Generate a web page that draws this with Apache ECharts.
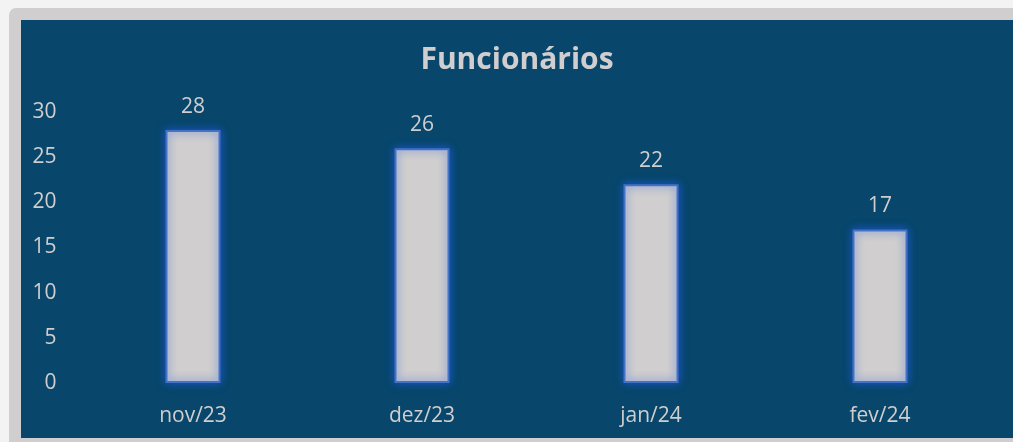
<!DOCTYPE html>
<html>
<head>
<meta charset="utf-8">
<script src="https://cdn.jsdelivr.net/npm/echarts@6/dist/echarts.min.js"></script>
<style>
    html, body { margin: 0; padding: 0; background: #f4f3f3; overflow: hidden; }
    #frame {
        position: absolute; left: 9px; top: 8px;
        width: 1020px; height: 446px;
        background: #d0cece; border-radius: 7px;
    }
    #chart {
        position: absolute; left: 21px; top: 20px;
        width: 992px; height: 418px;
    }
</style>
</head>
<body>
<div id="frame"></div>
<div id="chart"></div>
<script>
    let categories = ['nov/23', 'dez/23', 'jan/24', 'fev/24'];
    let funcionarios = [28, 26, 22, 17];
    let yTicks = [0, 5, 10, 15, 20, 25, 30];

    let textColor = '#d0cece';
    let font = '"Open Sans", sans-serif';

    let myChart = echarts.init(document.getElementById('chart'));
    let option = {
        backgroundColor: '#08476b',
        animation: false,
        title: {
            text: 'Funcionários',
            left: 'center',
            top: 20,
            textStyle: {
                color: textColor,
                fontSize: 30,
                fontWeight: 'bold',
                fontFamily: font
            }
        },
        grid: {
            left: 57.5,
            right: 18.5,
            top: 92,
            bottom: 55,
            containLabel: false
        },
        xAxis: {
            type: 'category',
            data: categories,
            axisLine: { show: false },
            axisTick: { show: false },
            axisLabel: {
                color: textColor,
                fontSize: 21,
                fontFamily: font,
                margin: 23
            }
        },
        yAxis: {
            type: 'value',
            min: yTicks[0],
            max: yTicks[yTicks.length - 1],
            interval: 5,
            splitLine: { show: false },
            axisLine: { show: false },
            axisTick: { show: false },
            axisLabel: {
                color: textColor,
                fontSize: 21,
                fontFamily: font,
                margin: 22,
                padding: [4, 0, 0, 0]
            }
        },
        series: [{
            type: 'bar',
            data: funcionarios,
            barWidth: 55,
            itemStyle: {
                color: '#d0cece',
                borderColor: '#4472c4',
                borderWidth: 2,
                shadowBlur: 8,
                shadowColor: 'rgba(30, 90, 220, 0.9)'
            },
            label: {
                show: true,
                position: 'top',
                distance: 13,
                color: textColor,
                fontSize: 21,
                fontFamily: font
            }
        }]
    };
    myChart.setOption(option);

    window.addEventListener('resize', function () {
        myChart.resize();
    });
</script>
</body>
</html>
